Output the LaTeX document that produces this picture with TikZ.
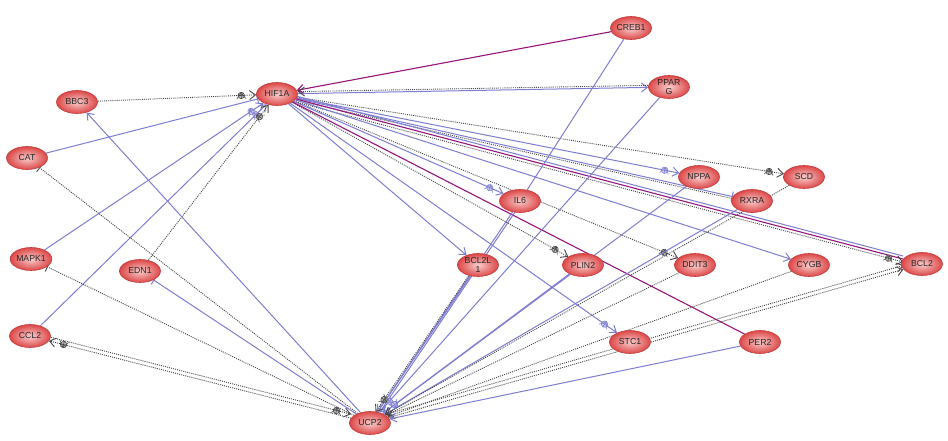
\documentclass[tikz,border=0pt]{standalone}
\usepackage{fontspec}
\setmainfont{Liberation Sans}
\usetikzlibrary{shapes.geometric,arrows.meta,decorations.markings}
\pgfdeclarelayer{edgelayer}
\pgfsetlayers{edgelayer,main}
\definecolor{lnblue}{RGB}{125,125,210}
\definecolor{lnpurple}{RGB}{150,20,125}
\definecolor{lngray}{RGB}{70,70,70}
\definecolor{nodeout}{RGB}{220,72,72}
\definecolor{nodein}{RGB}{250,205,205}
\definecolor{nodeborder}{RGB}{195,60,60}
\tikzset{
  gn/.style={ellipse, draw=nodeborder, line width=0.6pt, inner color=nodein, outer color=nodeout,
    minimum width=41pt, minimum height=23pt, inner sep=0pt, align=center,
    font=\fontsize{8.7}{8.7}\selectfont, text=black!85},
  bl/.style={draw=lnblue, line width=1pt},
  pu/.style={draw=lnpurple, line width=1.1pt},
  dt/.style={draw=lngray, line width=0.9pt, dash pattern=on 1pt off 1.1pt},
  ar/.style={-{Straight Barb[length=6pt,width=9pt]}},
  ib/.style={-{Bar[width=10pt]}},
  ci/.style={postaction={decorate, decoration={markings, mark=at position -15pt with {
      \draw[solid, line width=0.6pt, draw=#1, fill=#1!35] (0,0) circle (3.2pt);
      \draw[solid, line width=0.6pt, draw=#1] (-3.2pt,0)--(3.2pt,0) (0,-3.2pt)--(0,3.2pt);}}}},
  ci/.default=lngray,
  sh/.style={transform canvas={shift={(0,#1)}}},
}
\begin{document}
\begin{tikzpicture}[x=1pt,y=-1pt]
\useasboundingbox (0,0) rectangle (948,441);
\node[gn] (CREB1) at (631,28) {CREB1};
\node[gn] (HIF1A) at (277,94) {HIF1A};
\node[gn] (BBC3) at (77,102) {BBC3};
\node[gn] (PPARG) at (669,87) {PPAR\\G};
\node[gn] (CAT) at (27,158) {CAT};
\node[gn] (NPPA) at (699,177) {NPPA};
\node[gn] (SCD) at (804,177) {SCD};
\node[gn] (IL6) at (520,201) {IL6};
\node[gn] (RXRA) at (752,201) {RXRA};
\node[gn] (MAPK1) at (31,259) {MAPK1};
\node[gn] (EDN1) at (140,271) {EDN1};
\node[gn] (BCL2L1) at (478,265) {BCL2L\\1};
\node[gn] (PLIN2) at (583,265) {PLIN2};
\node[gn] (DDIT3) at (695,265) {DDIT3};
\node[gn] (CYGB) at (809,265) {CYGB};
\node[gn] (BCL2) at (922,264) {BCL2};
\node[gn] (CCL2) at (30,336) {CCL2};
\node[gn] (STC1) at (630,342) {STC1};
\node[gn] (PER2) at (760,342) {PER2};
\node[gn] (UCP2) at (370,423) {UCP2};
\begin{pgfonlayer}{edgelayer}
% edges at HIF1A
\draw[dt,ar,ci] (BBC3) -- (HIF1A);
\draw[bl,ib] (CAT) -- (HIF1A);
\draw[bl,ar,ci=lnblue] (MAPK1) -- (HIF1A);
\draw[bl,ar,ci=lnblue] (CCL2) -- (HIF1A);
\draw[dt,ar,ci] (EDN1) -- (HIF1A);
\draw[pu,ar] (CREB1) -- (HIF1A);
\draw[bl,ar] (HIF1A) -- (PPARG);
\draw[dt,ar,sh=2pt] (PPARG) -- (HIF1A);
\draw[dt,ar,ci] (HIF1A) -- (SCD);
\draw[bl,ar,ci=lnblue] (HIF1A) -- (NPPA);
\draw[bl,ib] (HIF1A) -- (RXRA);
\draw[dt,sh=-2pt] (HIF1A) -- (RXRA);
\draw[pu] (HIF1A) -- (BCL2);
\draw[bl,sh=3pt] (HIF1A) -- (BCL2);
\draw[dt,ar,ci,sh=-3pt] (HIF1A) -- (BCL2);
\draw[bl,ar] (HIF1A) -- (CYGB);
\draw[dt,ar,ci] (HIF1A) -- (DDIT3);
\draw[bl,ar,ci=lnblue] (HIF1A) -- (IL6);
\draw[bl,ar] (HIF1A) -- (BCL2L1);
\draw[dt,ar,ci] (HIF1A) -- (PLIN2);
\draw[bl,ar,ci=lnblue] (HIF1A) -- (STC1);
\draw[pu] (HIF1A) -- (PER2);
% edges at UCP2
\draw[bl,ar] (UCP2) -- (BBC3);
\draw[dt,ib] (UCP2) -- (CAT);
\draw[dt,ib] (UCP2) -- (MAPK1);
\draw[bl,ib] (UCP2) -- (EDN1);
\draw[dt,ar,ci] (UCP2) -- (CCL2);
\draw[dt,ar,ci,sh=4pt] (CCL2) -- (UCP2);
\draw[bl] (CREB1) -- (IL6);
\draw[bl,ar,ci=lnblue] (PPARG) -- (UCP2);
\draw[bl,ar] (IL6) -- (UCP2);
\draw[bl,transform canvas={shift={(2.5pt,0)}}] (IL6) -- (UCP2);
\draw[bl] (BCL2L1) -- (UCP2);
\draw[dt,ar,ci,transform canvas={shift={(-2pt,0)}}] (BCL2L1) -- (UCP2);
\draw[bl,ar,ci=lnblue] (PLIN2) -- (UCP2);
\draw[bl,ar,ci=lnblue] (NPPA) -- (UCP2);
\draw[bl,ar] (RXRA) -- (UCP2);
\draw[dt,ar] (SCD) -- (UCP2);
\draw[dt,ar] (DDIT3) -- (UCP2);
\draw[dt,ar] (CYGB) -- (UCP2);
\draw[dt,ar] (UCP2) -- (BCL2);
\draw[dt,ar,sh=4pt] (UCP2) -- (BCL2);
\draw[bl,ar] (PER2) -- (UCP2);
\end{pgfonlayer}
\end{tikzpicture}
\end{document}
